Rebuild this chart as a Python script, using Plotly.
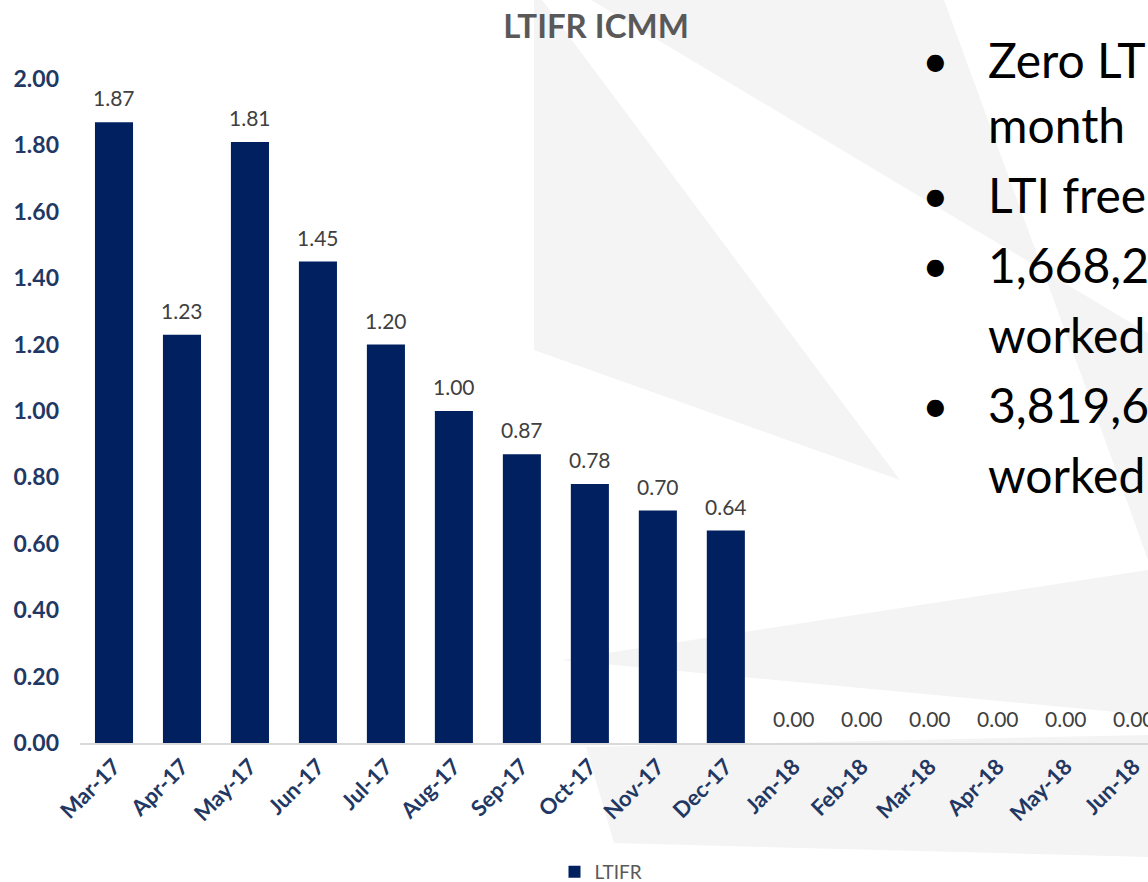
import plotly.graph_objects as go

# ---- data ----
months = ["Mar-17", "Apr-17", "May-17", "Jun-17", "Jul-17", "Aug-17", "Sep-17", "Oct-17",
          "Nov-17", "Dec-17", "Jan-18", "Feb-18", "Mar-18", "Apr-18", "May-18", "Jun-18"]
ltifr = [1.87, 1.23, 1.81, 1.45, 1.20, 1.00, 0.87, 0.78, 0.70, 0.64, 0.00, 0.00, 0.00, 0.00, 0.00, 0.00]
y_ticks = [0.0, 0.2, 0.4, 0.6, 0.8, 1.0, 1.2, 1.4, 1.6, 1.8, 2.0]
title_text = "LTIFR ICMM"
series_name = "LTIFR"
bullet_marks = ["•", "", "•", "•", "", "•", ""]
bullet_texts = ["Zero LTI", "month", "LTI free", "1,668,2", "worked", "3,819,6", "worked"]

W, H = 1148, 882
L, R, T, B = 80, 0, 79, 139
PW, PH = W - L - R, H - T - B

def px(x):
    return (x - L) / PW

def py(y):
    return (H - B - y) / PH

FONT = "Lato"
NAVY = "#002060"
TICK = "#1F3864"

fig = go.Figure()
fig.add_trace(go.Bar(
    x=months, y=ltifr, name=series_name,
    marker=dict(color=NAVY, line=dict(width=0)),
    hoverinfo="x+y",
))

# data labels above bars
for m, v in zip(months, ltifr):
    fig.add_annotation(x=m, y=v, xref="x", yref="y", text=f"{v:.2f}",
                       showarrow=False, yanchor="bottom", yshift=10,
                       font=dict(family=FONT, size=21, color="#404040"))

# bullet text on the right
line_y = [59, 125, 194, 264, 334, 404, 474]
for mark, txt, yy in zip(bullet_marks, bullet_texts, line_y):
    if mark:
        fig.add_annotation(x=px(935), y=py(yy), xref="paper", yref="paper", text=mark,
                           showarrow=False, xanchor="center", yanchor="middle",
                           font=dict(family=FONT, size=46, color="#000000"))
    fig.add_annotation(x=px(986), y=py(yy), xref="paper", yref="paper", text=txt,
                       showarrow=False, xanchor="left", yanchor="middle",
                       font=dict(family=FONT, size=48, color="#000000"))

# faint background rays
grey = "#F4F4F4"
polys = [
    [(534, 0), (542, 0), (900, 480), (534, 350)],
    [(591, 0), (944, 0), (1105, 440), (1148, 560), (1148, 333)],
    [(561, 660), (1148, 570), (1148, 715)],
    [(586, 747), (1148, 735), (1148, 857), (614, 843)],
]
for poly in polys:
    path = "M " + " L ".join(f"{px(a):.4f},{py(b):.4f}" for a, b in poly) + " Z"
    fig.add_shape(type="path", path=path, xref="paper", yref="paper",
                  fillcolor=grey, line=dict(width=0), layer="below")

fig.update_layout(
    width=W, height=H,
    margin=dict(l=L, r=R, t=T, b=B, pad=0, autoexpand=False),
    paper_bgcolor="white", plot_bgcolor="rgba(0,0,0,0)",
    bargap=0.44,
    showlegend=True,
    title=dict(text=title_text, x=596 / W, xanchor="center", y=1 - 26 / H, yanchor="middle",
               font=dict(family=FONT, size=33, color="#595959", weight="bold"),
               automargin=False),
    legend=dict(orientation="h", x=px(601), xanchor="center", y=py(872), yanchor="middle",
                font=dict(family=FONT, size=19, color="#595959"),
                bgcolor="rgba(0,0,0,0)", itemwidth=30, itemsizing="constant"),
    xaxis=dict(type="category", range=[-0.5, 15.21], tickangle=-45, automargin=False,
               tickfont=dict(family=FONT, size=22, color=TICK, weight="bold"),
               showline=True, linecolor="#D9D9D9", linewidth=2,
               showgrid=False, ticks="", zeroline=False),
    yaxis=dict(range=[0, 2.0], tickvals=y_ticks, tickformat=".2f", automargin=False,
               tickfont=dict(family=FONT, size=23, color=TICK, weight="bold"),
               showline=False, showgrid=False, zeroline=False, ticks="",
               ticklabelstandoff=20),
    font=dict(family=FONT),
)

fig.write_html("out.html",
               config={"displayModeBar": False},
               post_script="document.body.style.margin='0px';document.body.style.overflow='hidden';")
